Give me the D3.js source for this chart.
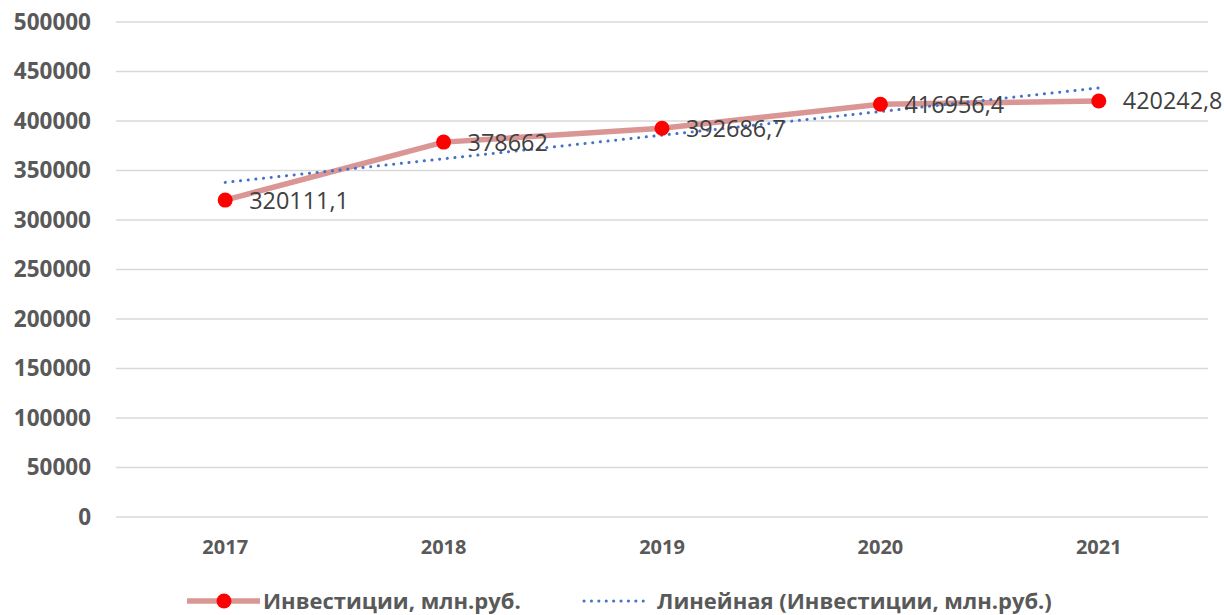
<!DOCTYPE html>
<html>
<head>
<meta charset="utf-8">
<script src="https://cdn.jsdelivr.net/npm/d3@7"></script>
<style>
  html, body { margin: 0; padding: 0; background: #fff; }
  svg { display: block; font-family: "Open Sans", "Noto Sans", sans-serif; }
</style>
</head>
<body>
<svg id="chart" width="1224" height="615"></svg>
<script>
// ── данные ──
const years      = ["2017", "2018", "2019", "2020", "2021"];
const investment = [320111.1, 378662, 392686.7, 416956.4, 420242.8];
const valueLabels = ["320111,1", "378662", "392686,7", "416956,4", "420242,8"];
// линейный тренд (значения на концах)
const trendYears  = ["2017", "2021"];
const trendValues = [338000, 433400];
const yTicks = [0, 50000, 100000, 150000, 200000, 250000, 300000, 350000, 400000, 450000, 500000];
const legendNames = ["Инвестиции, млн.руб.", "Линейная (Инвестиции, млн.руб.)"];

const svg = d3.select("#chart");
const plot = { left: 116, right: 1208, top: 22, bottom: 517 };

const x = d3.scaleBand().domain(years).range([plot.left, plot.right]);
const cx = (d) => x(d) + x.bandwidth() / 2;
const y = d3.scaleLinear().domain([0, 500000]).range([plot.bottom, plot.top]);

const lineColor  = "#d99694";
const dotColor   = "#ff0000";
const trendColor = "#4472c4";
const axisText   = "#595959";

// ── сетка ──
svg.append("g")
  .selectAll("line")
  .data(yTicks)
  .join("line")
  .attr("x1", plot.left).attr("x2", plot.right)
  .attr("y1", (d) => y(d)).attr("y2", (d) => y(d))
  .attr("stroke", "#d9d9d9")
  .attr("stroke-width", 1.3);

// ── ось Y ──
const yAxis = svg.append("g")
  .attr("transform", `translate(${plot.left - 25},0)`)
  .call(d3.axisLeft(y).tickValues(yTicks).tickFormat(d3.format("d")).tickSize(0).tickPadding(0));
yAxis.select(".domain").remove();
yAxis.selectAll("text")
  .attr("fill", axisText)
  .attr("font-size", 22.5)
  .attr("font-weight", 700)
  .attr("font-family", "Open Sans, sans-serif");

// ── ось X ──
const xAxis = svg.append("g")
  .attr("transform", `translate(0,${plot.bottom})`)
  .call(d3.axisBottom(x).tickSize(0).tickPadding(0));
xAxis.select(".domain").remove();
xAxis.selectAll("text")
  .attr("y", 30)
  .attr("dy", "0.35em")
  .attr("fill", axisText)
  .attr("font-size", 20)
  .attr("font-weight", 700)
  .attr("font-family", "Open Sans, sans-serif");

// ── линия данных ──
const series = years.map((yr, i) => ({ year: yr, value: investment[i], label: valueLabels[i] }));
const line = d3.line().x((d) => cx(d.year)).y((d) => y(d.value));

svg.append("path")
  .datum(series)
  .attr("d", line)
  .attr("fill", "none")
  .attr("stroke", lineColor)
  .attr("stroke-width", 5.5)
  .attr("stroke-linejoin", "round");

// ── тренд ──
const trend = trendYears.map((yr, i) => ({ year: yr, value: trendValues[i] }));
svg.append("path")
  .datum(trend)
  .attr("d", line)
  .attr("fill", "none")
  .attr("stroke", trendColor)
  .attr("stroke-width", 3)
  .attr("stroke-linecap", "round")
  .attr("stroke-dasharray", "0.1 7.6");

// ── маркеры ──
svg.append("g")
  .selectAll("circle")
  .data(series)
  .join("circle")
  .attr("cx", (d) => cx(d.year))
  .attr("cy", (d) => y(d.value))
  .attr("r", 7.5)
  .attr("fill", dotColor);

// ── подписи значений ──
svg.append("g")
  .selectAll("text")
  .data(series)
  .join("text")
  .attr("x", (d) => cx(d.year) + 24)
  .attr("y", (d) => y(d.value))
  .attr("dy", "0.36em")
  .attr("fill", "#404040")
  .attr("font-size", 23.4)
  .text((d) => d.label);

// ── легенда ──
const legend = svg.append("g").attr("transform", "translate(0,601)");
legend.append("line")
  .attr("x1", 187).attr("x2", 260).attr("y1", 0).attr("y2", 0)
  .attr("stroke", lineColor).attr("stroke-width", 5.5);
legend.append("circle").attr("cx", 224).attr("cy", 0).attr("r", 7.5).attr("fill", dotColor);
legend.append("text")
  .attr("x", 263).attr("y", 0).attr("dy", "0.35em")
  .attr("fill", axisText).attr("font-size", 22).attr("font-weight", 700)
  .text(legendNames[0]);

legend.append("line")
  .attr("x1", 584).attr("x2", 648).attr("y1", 0).attr("y2", 0)
  .attr("stroke", trendColor).attr("stroke-width", 3)
  .attr("stroke-linecap", "round").attr("stroke-dasharray", "0.1 7.3");
legend.append("text")
  .attr("x", 657).attr("y", 0).attr("dy", "0.35em")
  .attr("fill", axisText).attr("font-size", 22).attr("font-weight", 700)
  .text(legendNames[1]);
</script>
</body>
</html>
